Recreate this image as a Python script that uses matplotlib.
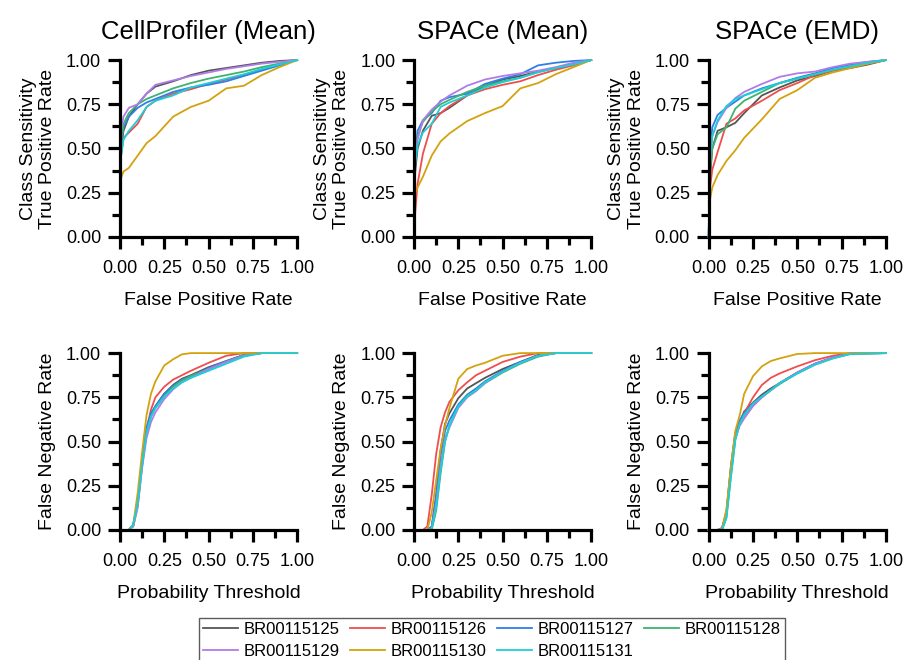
import numpy as np
import matplotlib
matplotlib.use("Agg")
import matplotlib.pyplot as plt
from matplotlib.ticker import MultipleLocator, FormatStrFormatter

plt.rcParams['font.family'] = ['Liberation Sans', 'DejaVu Sans']

plates = ['BR00115125', 'BR00115126', 'BR00115127', 'BR00115128',
          'BR00115129', 'BR00115130', 'BR00115131']
colors = ['#555555', '#F04D4D', '#2F7FE8', '#3DB36F', '#B07CE8', '#D4A20E', '#1CCFD6']
titles = ['CellProfiler (Mean)', 'SPACe (Mean)', 'SPACe (EMD)']

# ROC curves: false positive rate grid, true positive rate per plate
fpr = [0, 0.005, 0.02, 0.05, 0.1, 0.15, 0.2, 0.3, 0.4, 0.5, 0.6, 0.7, 0.8, 0.9, 1.0]
tpr_cp_mean = [
    [0, 0.50, 0.60, 0.68, 0.75, 0.81, 0.85, 0.88, 0.915, 0.94, 0.955, 0.97, 0.985, 0.995, 1],
    [0, 0.45, 0.56, 0.59, 0.64, 0.735, 0.77, 0.81, 0.835, 0.865, 0.89, 0.915, 0.945, 0.975, 1],
    [0, 0.50, 0.62, 0.68, 0.73, 0.76, 0.78, 0.82, 0.845, 0.86, 0.88, 0.91, 0.94, 0.97, 1],
    [0, 0.52, 0.64, 0.70, 0.75, 0.78, 0.80, 0.84, 0.87, 0.895, 0.915, 0.935, 0.96, 0.98, 1],
    [0, 0.60, 0.68, 0.73, 0.75, 0.81, 0.86, 0.885, 0.91, 0.93, 0.95, 0.965, 0.98, 0.99, 1],
    [0.15, 0.33, 0.37, 0.39, 0.46, 0.53, 0.57, 0.68, 0.735, 0.77, 0.84, 0.855, 0.915, 0.96, 1],
    [0, 0.45, 0.55, 0.60, 0.66, 0.735, 0.77, 0.80, 0.845, 0.87, 0.895, 0.92, 0.95, 0.975, 1],
]
tpr_space_mean = [
    [0, 0.35, 0.50, 0.60, 0.685, 0.70, 0.73, 0.80, 0.855, 0.89, 0.91, 0.935, 0.955, 0.975, 1],
    [0, 0.12, 0.30, 0.47, 0.64, 0.70, 0.74, 0.80, 0.835, 0.86, 0.88, 0.915, 0.945, 0.97, 1],
    [0, 0.45, 0.60, 0.66, 0.70, 0.77, 0.79, 0.81, 0.865, 0.895, 0.92, 0.97, 0.985, 0.995, 1],
    [0, 0.42, 0.57, 0.65, 0.71, 0.75, 0.775, 0.82, 0.855, 0.88, 0.90, 0.935, 0.955, 0.98, 1],
    [0, 0.42, 0.55, 0.66, 0.72, 0.765, 0.80, 0.855, 0.89, 0.91, 0.925, 0.94, 0.96, 0.985, 1],
    [0.2, 0.24, 0.28, 0.34, 0.46, 0.54, 0.585, 0.655, 0.70, 0.74, 0.84, 0.87, 0.92, 0.96, 1],
    [0, 0.40, 0.52, 0.59, 0.64, 0.735, 0.76, 0.80, 0.845, 0.875, 0.90, 0.93, 0.955, 0.975, 1],
]
tpr_space_emd = [
    [0, 0.30, 0.50, 0.60, 0.62, 0.645, 0.70, 0.80, 0.845, 0.885, 0.91, 0.94, 0.955, 0.975, 1],
    [0, 0.26, 0.38, 0.48, 0.64, 0.67, 0.715, 0.77, 0.83, 0.87, 0.915, 0.94, 0.965, 0.98, 1],
    [0, 0.45, 0.62, 0.69, 0.73, 0.765, 0.80, 0.84, 0.87, 0.90, 0.925, 0.955, 0.975, 0.99, 1],
    [0, 0.35, 0.50, 0.58, 0.62, 0.725, 0.77, 0.82, 0.87, 0.895, 0.92, 0.945, 0.965, 0.985, 1],
    [0, 0.40, 0.57, 0.65, 0.73, 0.785, 0.82, 0.865, 0.905, 0.925, 0.935, 0.96, 0.98, 0.99, 1],
    [0.2, 0.20, 0.28, 0.35, 0.43, 0.49, 0.56, 0.665, 0.78, 0.83, 0.90, 0.93, 0.955, 0.98, 1],
    [0, 0.42, 0.57, 0.66, 0.74, 0.78, 0.80, 0.835, 0.87, 0.895, 0.92, 0.945, 0.965, 0.985, 1],
]

# false negative rate vs probability threshold
thr = [0, 0.05, 0.075, 0.1, 0.125, 0.15, 0.175, 0.2, 0.25, 0.3, 0.35, 0.4, 0.5, 0.6, 0.7, 0.8, 1.0]
fnr_cp_mean = [
    [0, 0, 0.03, 0.16, 0.39, 0.56, 0.65, 0.70, 0.77, 0.82, 0.855, 0.875, 0.92, 0.955, 0.99, 1, 1],
    [0, 0, 0.03, 0.15, 0.38, 0.57, 0.68, 0.75, 0.81, 0.85, 0.875, 0.90, 0.945, 0.985, 1, 1, 1],
    [0, 0, 0.03, 0.16, 0.40, 0.58, 0.66, 0.70, 0.77, 0.815, 0.85, 0.87, 0.915, 0.955, 0.99, 1, 1],
    [0, 0, 0.02, 0.13, 0.36, 0.55, 0.64, 0.69, 0.755, 0.81, 0.845, 0.87, 0.91, 0.95, 0.99, 1, 1],
    [0, 0, 0.02, 0.13, 0.35, 0.52, 0.61, 0.665, 0.74, 0.795, 0.835, 0.86, 0.91, 0.95, 0.985, 1, 1],
    [0, 0, 0.03, 0.21, 0.44, 0.65, 0.77, 0.84, 0.93, 0.965, 0.993, 1, 1, 1, 1, 1, 1],
    [0, 0, 0.03, 0.15, 0.37, 0.55, 0.64, 0.69, 0.755, 0.80, 0.835, 0.86, 0.90, 0.94, 0.98, 1, 1],
]
fnr_space_mean = [
    [0, 0, 0, 0.02, 0.20, 0.45, 0.60, 0.66, 0.745, 0.80, 0.83, 0.86, 0.91, 0.95, 0.99, 1, 1],
    [0, 0, 0.02, 0.20, 0.43, 0.58, 0.665, 0.725, 0.79, 0.835, 0.875, 0.90, 0.95, 0.98, 1, 1, 1],
    [0, 0, 0, 0.02, 0.19, 0.42, 0.56, 0.62, 0.71, 0.765, 0.80, 0.84, 0.90, 0.95, 0.985, 1, 1],
    [0, 0, 0, 0, 0.11, 0.32, 0.50, 0.59, 0.70, 0.76, 0.79, 0.83, 0.89, 0.94, 0.98, 1, 1],
    [0, 0, 0, 0.01, 0.15, 0.36, 0.52, 0.58, 0.69, 0.75, 0.785, 0.83, 0.895, 0.945, 0.985, 1, 1],
    [0, 0, 0, 0.10, 0.28, 0.46, 0.59, 0.69, 0.855, 0.91, 0.93, 0.945, 0.985, 1, 1, 1, 1],
    [0, 0, 0, 0.01, 0.13, 0.34, 0.50, 0.59, 0.70, 0.755, 0.79, 0.835, 0.895, 0.945, 0.985, 1, 1],
]
fnr_space_emd = [
    [0, 0, 0.01, 0.09, 0.34, 0.54, 0.61, 0.67, 0.72, 0.765, 0.80, 0.83, 0.89, 0.94, 0.975, 0.998, 1],
    [0, 0, 0.01, 0.10, 0.35, 0.54, 0.61, 0.66, 0.75, 0.82, 0.86, 0.885, 0.925, 0.96, 0.985, 1, 1],
    [0, 0, 0.01, 0.10, 0.36, 0.55, 0.62, 0.66, 0.715, 0.755, 0.79, 0.83, 0.89, 0.94, 0.975, 0.998, 1],
    [0, 0, 0, 0.07, 0.30, 0.51, 0.60, 0.645, 0.705, 0.75, 0.79, 0.825, 0.885, 0.935, 0.97, 0.995, 1],
    [0, 0, 0.01, 0.09, 0.33, 0.52, 0.59, 0.63, 0.70, 0.75, 0.79, 0.83, 0.89, 0.94, 0.975, 0.998, 1],
    [0, 0, 0.005, 0.12, 0.36, 0.56, 0.65, 0.77, 0.87, 0.925, 0.955, 0.97, 0.995, 1, 1, 1, 1],
    [0, 0, 0, 0.07, 0.30, 0.51, 0.60, 0.65, 0.715, 0.755, 0.79, 0.83, 0.885, 0.935, 0.97, 0.995, 1],
]

roc_sets = [tpr_cp_mean, tpr_space_mean, tpr_space_emd]
fnr_sets = [fnr_cp_mean, fnr_space_mean, fnr_space_emd]


def style_axis(ax):
    ax.set_xlim(0, 1)
    ax.set_ylim(0, 1)
    for s in ['top', 'right']:
        ax.spines[s].set_visible(False)
    for s in ['left', 'bottom']:
        ax.spines[s].set_linewidth(2.3)
    ax.xaxis.set_major_locator(MultipleLocator(0.25))
    ax.xaxis.set_minor_locator(MultipleLocator(0.125))
    ax.yaxis.set_major_locator(MultipleLocator(0.25))
    ax.yaxis.set_minor_locator(MultipleLocator(0.125))
    ax.xaxis.set_major_formatter(FormatStrFormatter('%.2f'))
    ax.yaxis.set_major_formatter(FormatStrFormatter('%.2f'))
    ax.tick_params(which='major', direction='out', length=8.5, width=2.3, labelsize=13)
    ax.tick_params(which='minor', direction='out', length=6, width=2.3)
    ax.tick_params(axis='x', which='major', pad=8)
    ax.tick_params(axis='y', which='major', pad=5)


fig = plt.figure(figsize=(9.04, 6.6), dpi=100)
lefts = [0.1327, 0.458, 0.784]
w, h = 0.196, 0.268

handles = []
for i in range(3):
    ax = fig.add_axes([lefts[i], 0.641, w, h])
    for k, ys in enumerate(roc_sets[i]):
        ln, = ax.plot(fpr, ys, color=colors[k], lw=1.3, label=plates[k], clip_on=False)
        if i == 0:
            handles.append(ln)
    style_axis(ax)
    ax.set_title(titles[i], fontsize=18.5, pad=15)
    ax.set_xlabel('False Positive Rate', fontsize=14, labelpad=11)
    ax.set_ylabel('Class Sensitivity\nTrue Positive Rate', fontsize=14, labelpad=7)

    ax2 = fig.add_axes([lefts[i], 0.197, w, h])
    for k, ys in enumerate(fnr_sets[i]):
        ax2.plot(thr, ys, color=colors[k], lw=1.3, clip_on=False)
    style_axis(ax2)
    ax2.set_xlabel('Probability Threshold', fontsize=14, labelpad=11)
    ax2.set_ylabel('False Negative Rate', fontsize=14, labelpad=7)

# row-major legend order: fill columns of two
order = [0, 4, 1, 5, 2, 6, 3]
leg = fig.legend([handles[j] for j in order], [plates[j] for j in order],
                 loc='upper left', bbox_to_anchor=(199 / 904, 1 - 618 / 660),
                 ncol=4, fontsize=12, frameon=True, fancybox=False,
                 edgecolor='#333333', borderaxespad=0, borderpad=0.25,
                 handlelength=2.1, handletextpad=0.35, columnspacing=0.6,
                 labelspacing=0.38)
leg.get_frame().set_linewidth(1.0)

fig.savefig('out.png', dpi=100)
